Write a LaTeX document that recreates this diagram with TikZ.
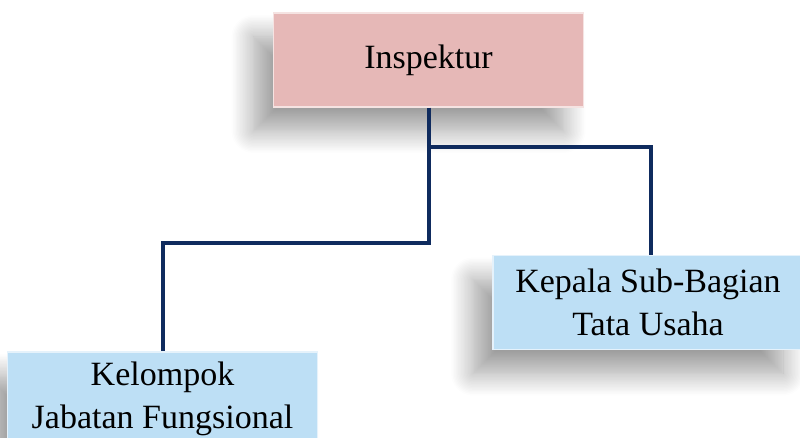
\documentclass[tikz,border=0pt]{standalone}
\usepackage{fontspec}
\setmainfont{Liberation Serif}
\usetikzlibrary{shadows.blur}
\definecolor{boxpink}{HTML}{E6B8B7}
\definecolor{boxblue}{HTML}{BDDFF5}
\definecolor{linknavy}{HTML}{0F2B5E}
\begin{document}
\begin{tikzpicture}[x=1pt,y=-1pt,
	unit/.style={ rectangle, draw=white!60!#1, line width=1.5pt, fill=#1, inner sep=0pt, align=center,
		minimum width=310pt, minimum height=94pt, font=\fontsize{34}{43}\selectfont,
		blur shadow={shadow xshift=-20pt, shadow yshift=-24pt, shadow blur radius=22pt, shadow blur steps=16, shadow opacity=38} },
	link/.style={ linknavy, line width=4pt }
]
\useasboundingbox (0,0) rectangle (800,438);

\node[unit=boxpink] at (428.5,60) (insp) {Inspektur};
\node[unit=boxblue] at (648,302.5) (ksb) {Kepala Sub-Bagian\\Tata Usaha};
\node[unit=boxblue] at (162.5,399) (kjf) {Kelompok\\Jabatan Fungsional};

\coordinate (branch) at (insp.south |- 0,147);
\coordinate (elbow) at (insp.south |- 0,243);
\draw[link] (insp.south) -- (branch) -| ([xshift=3pt]ksb.north);
\draw[link] (branch) -- (elbow) -| (kjf.north);

\end{tikzpicture}
\end{document}
